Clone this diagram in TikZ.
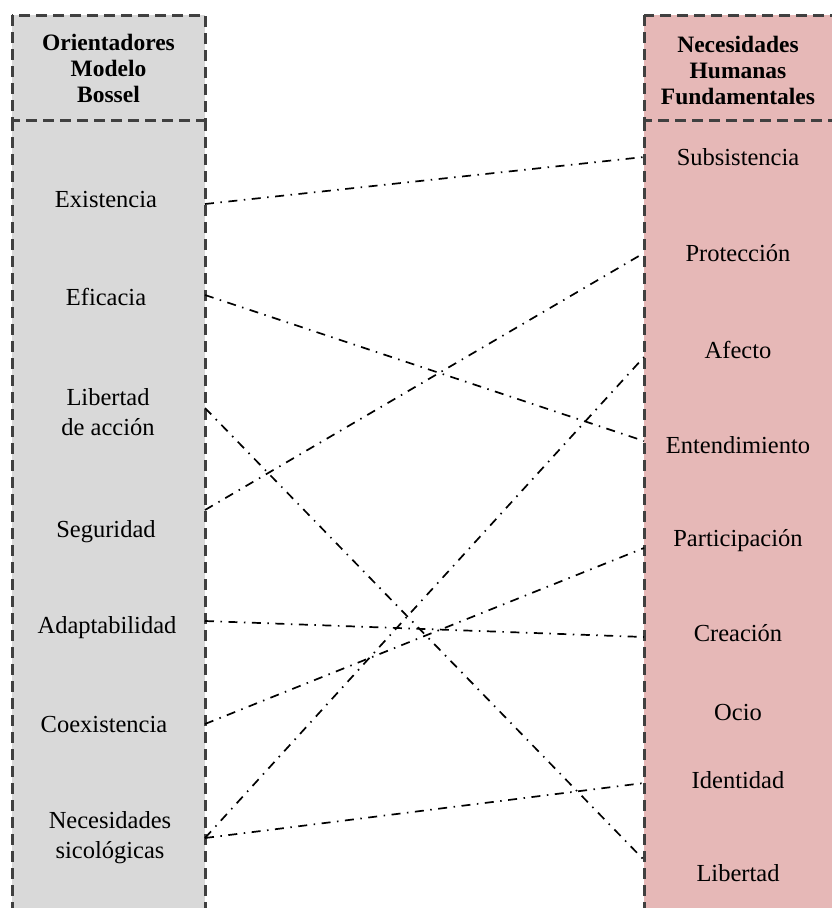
\documentclass[tikz,border=0pt]{standalone}
\usepackage{fontspec}
\setmainfont{Liberation Serif}
\definecolor{leftfill}{RGB}{217,217,217}
\definecolor{rightfill}{RGB}{230,184,183}
\definecolor{edge}{RGB}{64,64,64}
\begin{document}
\begin{tikzpicture}[x=1pt,y=-1pt,
  colbox/.style={draw=edge, line width=3pt, dash pattern=on 11pt off 6pt},
  head/.style={font=\fontsize{23.5}{26}\selectfont\bfseries, align=center, inner sep=0pt},
  lab/.style={font=\fontsize{24.5}{30}\selectfont, align=center, inner sep=0pt},
  link/.style={line width=1.7pt, dash pattern=on 9pt off 6.5pt on 1.5pt off 6.5pt}]
\useasboundingbox (0,0) rectangle (831,908);
% columns
\fill[leftfill] (12,15) rectangle (205,930);
\fill[rightfill] (644,15) rectangle (850,930);
\draw[colbox] (12,15) rectangle (205,120);
\draw[colbox] (12,120) -- (12,930);
\draw[colbox] (205,120) -- (205,930);
\draw[colbox] (644,15) rectangle (850,120);
\draw[colbox] (644,120) -- (644,930);
% headers
\node[head] (hl) at (108.5,68) {Orientadores\\Modelo\\Bossel};
\node[head] (hr) at (738,70) {Necesidades\\Humanas\\Fundamentales};
% left labels
\node[lab] (l1) at (106,200) {Existencia};
\node[lab] (l2) at (106,297) {Eficacia};
\node[lab] (l3) at (108,412) {Libertad\\de acción};
\node[lab] (l4) at (106,532) {Seguridad};
\node[lab] (l5) at (107,628) {Adaptabilidad};
\node[lab] (l6) at (104,724) {Coexistencia};
\node[lab] (l7) at (110,838) {Necesidades\\sicológicas};
% right labels
\node[lab] (r1) at (738,157) {Subsistencia};
\node[lab] (r2) at (738,253) {Protección};
\node[lab] (r3) at (738,350) {Afecto};
\node[lab] (r4) at (738,445) {Entendimiento};
\node[lab] (r5) at (738,541) {Participación};
\node[lab] (r6) at (738,633) {Creación};
\node[lab] (r7) at (738,712) {Ocio};
\node[lab] (r8) at (738,780) {Identidad};
\node[lab] (r9) at (738,873) {Libertad};
% connector ends
\coordinate (a1) at (205,204);
\coordinate (a2) at (205,295);
\coordinate (a3) at (205,408);
\coordinate (a4) at (205,510);
\coordinate (a5) at (205,621);
\coordinate (a6) at (205,724);
\coordinate (a7) at (205,838);
\coordinate (b1) at (644,157);
\coordinate (b2) at (644,253);
\coordinate (b3) at (644,357);
\coordinate (b4) at (644,441);
\coordinate (b5) at (644,548);
\coordinate (b6) at (644,637);
\coordinate (b8) at (644,783);
\coordinate (b9) at (644,860);
% connectors
\draw[link] (a1) -- (b1);
\draw[link] (a2) -- (b4);
\draw[link] (a3) -- (b9);
\draw[link] (a4) -- (b2);
\draw[link] (a5) -- (b6);
\draw[link] (a6) -- (b5);
\draw[link] (a7) -- (b3);
\draw[link] (a7) -- (b8);
\end{tikzpicture}
\end{document}
